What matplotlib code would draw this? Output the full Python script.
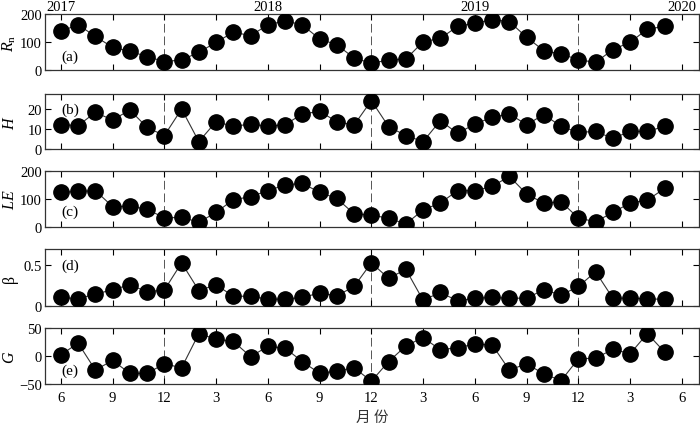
import numpy as np
import matplotlib
matplotlib.use("Agg")
import matplotlib.pyplot as plt
from matplotlib import rcParams

rcParams['font.family'] = ['Liberation Serif', 'DejaVu Serif']
rcParams['mathtext.fontset'] = 'custom'
rcParams['mathtext.rm'] = 'Liberation Serif'
rcParams['mathtext.it'] = 'Liberation Serif:italic'

# monthly series, June 2017 .. May 2020
rn = [138, 162, 120, 81, 67, 48, 30, 36, 63, 99, 135, 123,
      161, 176, 161, 111, 90, 43, 24, 36, 39, 101, 113, 156,
      167, 180, 173, 117, 69, 57, 37, 27, 73, 99, 146, 156]
h = [12.2, 11.7, 18.3, 14.5, 19.5, 10.8, 6.7, 20.0, 3.7, 13.7, 11.3, 12.5,
     11.3, 12.2, 17.5, 18.8, 13.7, 12.0, 24.2, 11.2, 6.7, 3.7, 14.2, 7.8,
     12.5, 15.8, 17.5, 12.2, 17.2, 11.3, 8.3, 8.8, 5.3, 8.8, 8.8, 11.3]
le = [124, 127, 130, 73, 74, 64, 32, 35, 17, 52, 98, 108,
      130, 150, 156, 124, 102, 47, 43, 31, 11, 61, 86, 130,
      130, 145, 181, 118, 85, 90, 32, 19, 52, 86, 96, 138]
beta = [0.105, 0.09, 0.146, 0.20, 0.26, 0.175, 0.196, 0.53, 0.19, 0.26, 0.12, 0.12,
        0.084, 0.084, 0.105, 0.16, 0.125, 0.24, 0.53, 0.34, 0.45, 0.071, 0.167, 0.063,
        0.096, 0.105, 0.096, 0.096, 0.20, 0.134, 0.24, 0.42, 0.096, 0.096, 0.09, 0.08]
g = [2, 23, -25, -8, -31, -31, -14, -21, 40, 30, 26, -1,
     17, 14, -10, -31, -27, -21, -45, -10, 18, 33, 11, 15,
     21, 20, -25, -14, -32, -44, -5, -4, 12, 4, 40, 7]

tick_labels = ['6', '9', '12', '3', '6', '9', '12', '3', '6', '9', '12', '3', '6']
years = ['2017', '2018', '2019', '2020']
dec_idx = [6, 18, 30]   # December of each year

x = np.arange(len(rn))
xt = np.arange(0, 37, 3)

panels = [
    (rn, r'$R_{\rm n}$', '(a)', (0, 200), [0, 100, 200], ['0', '100', '200'], 0.8337, 0.1311, 0.25),
    (h, r'$H$', '(b)', (0, 27.5), [0, 10, 20], ['0', '10', '20'], 0.6487, 0.1288, 0.72),
    (le, r'$LE$', '(c)', (0, 200), [0, 100, 200], ['0', '100', '200'], 0.4660, 0.1311, 0.28),
    (beta, 'β', '(d)', (0, 0.7), [0, 0.5], ['0', '0.5'], 0.2810, 0.1335, 0.72),
    (g, r'$G$', '(e)', (-50, 50), [-50, 0, 50], ['−50', '0', '50'], 0.0984, 0.1311, 0.25),
]

fig = plt.figure(figsize=(7, 4.27), dpi=100)
axes = []
for vals, ylab, tag, ylim, yt, ytl, bot, hgt, tagy in panels:
    ax = fig.add_axes([0.064, bot, 0.934, hgt])
    ax.plot(x, vals, '-', color='#333333', lw=0.8, marker='o', ms=11,
            mfc='black', mec='black', zorder=3)
    for d in dec_idx:
        ax.axvline(d, color='#555555', lw=0.7, ls=(0, (9, 4)), zorder=1)
    ax.set_xlim(-0.93, 36.97)
    ax.set_ylim(*ylim)
    ax.set_xticks(xt)
    ax.set_yticks(yt)
    ax.set_yticklabels(ytl)
    ax.tick_params(direction='in', top=True, right=True, length=4, width=0.8,
                   labelsize=10.5, pad=2)
    ax.set_ylabel(ylab, fontsize=11.5)
    ax.yaxis.set_label_coords(-0.041, 0.5)
    ax.text(0.026, tagy, tag, transform=ax.transAxes, fontsize=11,
            ha='left', va='center')
    for s in ax.spines.values():
        s.set_linewidth(0.9)
        s.set_color('#333333')
    axes.append(ax)

for ax in axes[:-1]:
    ax.set_xticklabels([])
axes[-1].set_xticklabels(tick_labels)
axes[-1].tick_params(axis='x', pad=5)

# year labels above the top panel
for i, yr in enumerate(years):
    axes[0].text(i * 12, 1.015, yr, transform=axes[0].get_xaxis_transform(),
                 ha='center', va='bottom', fontsize=10.5)

fig.text(0.532, 0.004, '月 份', ha='center', va='bottom', fontsize=10.5,
         family=['Noto Sans CJK SC', 'DejaVu Sans'], color='#333333')

fig.savefig('out.png', dpi=100)
